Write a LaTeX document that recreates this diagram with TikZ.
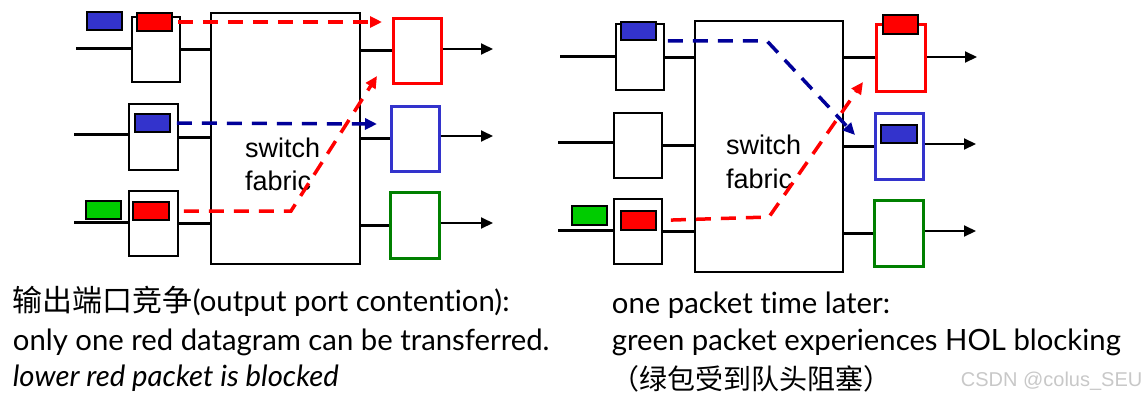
\documentclass[tikz,border=0pt]{standalone}
\usepackage{fontspec}
\setmainfont{Lato}[Ligatures=NoCommon]
\newfontfamily\cjk{Noto Sans CJK SC}
\newfontfamily\arialf{Liberation Sans}
\usetikzlibrary{arrows.meta}
\definecolor{pblue}{RGB}{51,51,204}
\definecolor{pgreen}{RGB}{0,204,0}
\definecolor{dgreen}{RGB}{0,128,0}
\definecolor{navy}{RGB}{0,0,153}
\definecolor{pred}{RGB}{255,0,0}
\definecolor{wmgray}{RGB}{200,200,200}
\tikzset{
  x=1pt, y=-1pt,
  queue/.style={draw, line width=2pt, fill=white, rectangle, inner sep=0pt},
  fabric/.style={draw, line width=2.2pt, fill=white, rectangle, inner sep=0pt},
  outbox/.style={draw=#1, line width=3pt, fill=white, rectangle, inner sep=0pt},
  pkt/.style={draw, line width=1.8pt, fill=#1, rectangle, inner sep=0pt},
  wire/.style={line width=3pt},
  outarrow/.style={line width=2pt, -{Triangle[length=12pt,width=11pt]}},
  flow/.style={line width=3.5pt, dash pattern=on 15pt off 10pt, -{Triangle[length=12pt,width=11pt]}},
  fabtext/.style={font=\arialf\fontsize{27}{32}\selectfont, anchor=base west, inner sep=0pt},
  caption/.style={font=\fontsize{29.3}{34}\selectfont, anchor=base west, inner sep=0pt},
}
\begin{document}
\begin{tikzpicture}
\useasboundingbox (0,0) rectangle (1148,400);
% ================= LEFT DIAGRAM =================
\coordinate (i1) at (76,48);
\coordinate (i2) at (74,134);
\coordinate (i3) at (74,222);
\coordinate (e1) at (493,49);
\coordinate (e2) at (493,136);
\coordinate (e3) at (493,223);
\node[fabric, minimum width=149pt, minimum height=251pt] (F1) at (285.5,138.5) {};
\node[queue, minimum width=48pt, minimum height=65pt] (q1) at (156,49.5) {};
\node[queue, minimum width=49pt, minimum height=66pt] (q2) at (153.5,137) {};
\node[queue, minimum width=49pt, minimum height=65pt] (q3) at (153.5,223.5) {};
\node[outbox=pred, minimum width=48pt, minimum height=65pt] (o1) at (417,50.5) {};
\node[outbox=pblue, minimum width=48pt, minimum height=65pt] (o2) at (415,138.5) {};
\node[outbox=dgreen, minimum width=49pt, minimum height=66pt] (o3) at (414.5,225) {};
\draw[wire] (i1) -- (i1 -| q1.west);
\draw[wire] (i2) -- (i2 -| q2.west);
\draw[wire] (i3) -- (i3 -| q3.west);
\draw[wire] (q1.east) -- (q1.east -| F1.west);
\draw[wire] (q2.east) -- (q2.east -| F1.west);
\draw[wire] (q3.east) -- (q3.east -| F1.west);
\draw[wire] (o1.west -| F1.east) -- (o1.west);
\draw[wire] (o2.west -| F1.east) -- (o2.west);
\draw[wire] (o3.west -| F1.east) -- (o3.west);
\draw[outarrow] (o1.east |- e1) -- (e1);
\draw[outarrow] (o2.east |- e2) -- (e2);
\draw[outarrow] (o3.east |- e3) -- (e3);
\node[pkt=pblue, minimum width=35pt, minimum height=18pt] (pb1) at (104.5,21) {};
\node[pkt=pred, minimum width=35pt, minimum height=18pt] (pr1) at (154.5,22) {};
\node[pkt=pblue, minimum width=35pt, minimum height=18pt] (pb2) at (152.5,123) {};
\node[pkt=pred, minimum width=36pt, minimum height=18pt] (pr3) at (151,211) {};
\node[pkt=pgreen, minimum width=35pt, minimum height=18pt] (pg3) at (103.5,210) {};
\node[fabtext] (sw1) at (245,157) {switch};
\node[fabtext] (fb1) at (245,190) {fabric};
\coordinate (t1) at (382,22);
\coordinate (t2) at (377,124);
\coordinate (b3) at (291,211);
\coordinate (t3) at (377,76);
\draw[flow, pred, shorten <=5pt] (pr1.east) -- (t1);
\draw[flow, navy, shorten <=6pt] (pb2.east) -- (t2);
\draw[flow, pred, shorten <=14pt] (pr3.east) -- (b3) -- (t3);
% ================= RIGHT DIAGRAM =================
\coordinate (I1) at (560,56);
\coordinate (I2) at (558,142);
\coordinate (I3) at (558,230);
\coordinate (E1) at (977,57);
\coordinate (E2) at (976,144);
\coordinate (E3) at (976,231);
\node[fabric, minimum width=148pt, minimum height=251pt] (F2) at (769,146.5) {};
\node[queue, minimum width=48pt, minimum height=66pt] (Q1) at (640,57) {};
\node[queue, minimum width=48pt, minimum height=65pt] (Q2) at (638,145.5) {};
\node[queue, minimum width=48pt, minimum height=65pt] (Q3) at (638,231.5) {};
\node[outbox=pred, minimum width=49pt, minimum height=67pt] (O1) at (900.5,57.5) {};
\node[outbox=pblue, minimum width=48pt, minimum height=66pt] (O2) at (899,146) {};
\node[outbox=dgreen, minimum width=49pt, minimum height=66pt] (O3) at (898.5,233) {};
\draw[wire] (I1) -- (I1 -| Q1.west);
\draw[wire] (I2) -- (I2 -| Q2.west);
\draw[wire] (I3) -- (I3 -| Q3.west);
\draw[wire] (Q1.east) -- (Q1.east -| F2.west);
\draw[wire] (Q2.east) -- (Q2.east -| F2.west);
\draw[wire] (Q3.east) -- (Q3.east -| F2.west);
\draw[wire] (O1.west -| F2.east) -- (O1.west);
\draw[wire] (O2.west -| F2.east) -- (O2.west);
\draw[wire] (O3.west -| F2.east) -- (O3.west);
\draw[outarrow] (O1.east |- E1) -- (E1);
\draw[outarrow] (O2.east |- E2) -- (E2);
\draw[outarrow] (O3.east |- E3) -- (E3);
\node[pkt=pblue, minimum width=35pt, minimum height=18pt] (Pb1) at (638.5,31) {};
\node[pkt=pred, minimum width=35pt, minimum height=19pt] (Pr3) at (638.5,220.5) {};
\node[pkt=pgreen, minimum width=35pt, minimum height=19pt] (Pg3) at (589.5,215.5) {};
\node[pkt=pred, minimum width=35pt, minimum height=19pt] (Po1) at (900.5,24.5) {};
\node[pkt=pblue, minimum width=36pt, minimum height=18pt] (Po2) at (899,134) {};
\node[fabtext] (sw2) at (726,154) {switch};
\node[fabtext] (fb2) at (726,188) {fabric};
\coordinate (B1) at (767,41);
\coordinate (T1) at (855,135);
\coordinate (B2) at (769,217);
\coordinate (T2) at (863,82);
\draw[flow, navy, shorten <=11pt] (Pb1.south east) -- (B1) -- (T1);
\draw[flow, pred, shorten <=14pt] (Pr3.east) -- (B2) -- (T2);
% ================= CAPTIONS =================
\node[caption] (L1) at (12.7,311.7) {{\cjk\fontsize{30}{32}\selectfont 输出端口竞争}(output port contention):};
\node[caption] (L2) at (12.7,350) {only one red datagram can be transferred.};
\node[caption] (L3) at (12.7,386.7) {\itshape lower red packet is blocked};
\node[caption] (R1) at (611.7,313.3) {one packet time later:};
\node[caption] (R2) at (611.7,350) {green packet experiences HOL blocking};
\node[caption, font=\cjk\fontsize{28}{32}\selectfont] (R3) at (611.7,389) {（绿包受到队头阻塞）};
\node[anchor=base west, inner sep=0pt, text=wmgray, font=\arialf\fontsize{20}{24}\selectfont] (W) at (960.7,386.7) {CSDN @colus\_SEU};
\end{tikzpicture}
\end{document}
